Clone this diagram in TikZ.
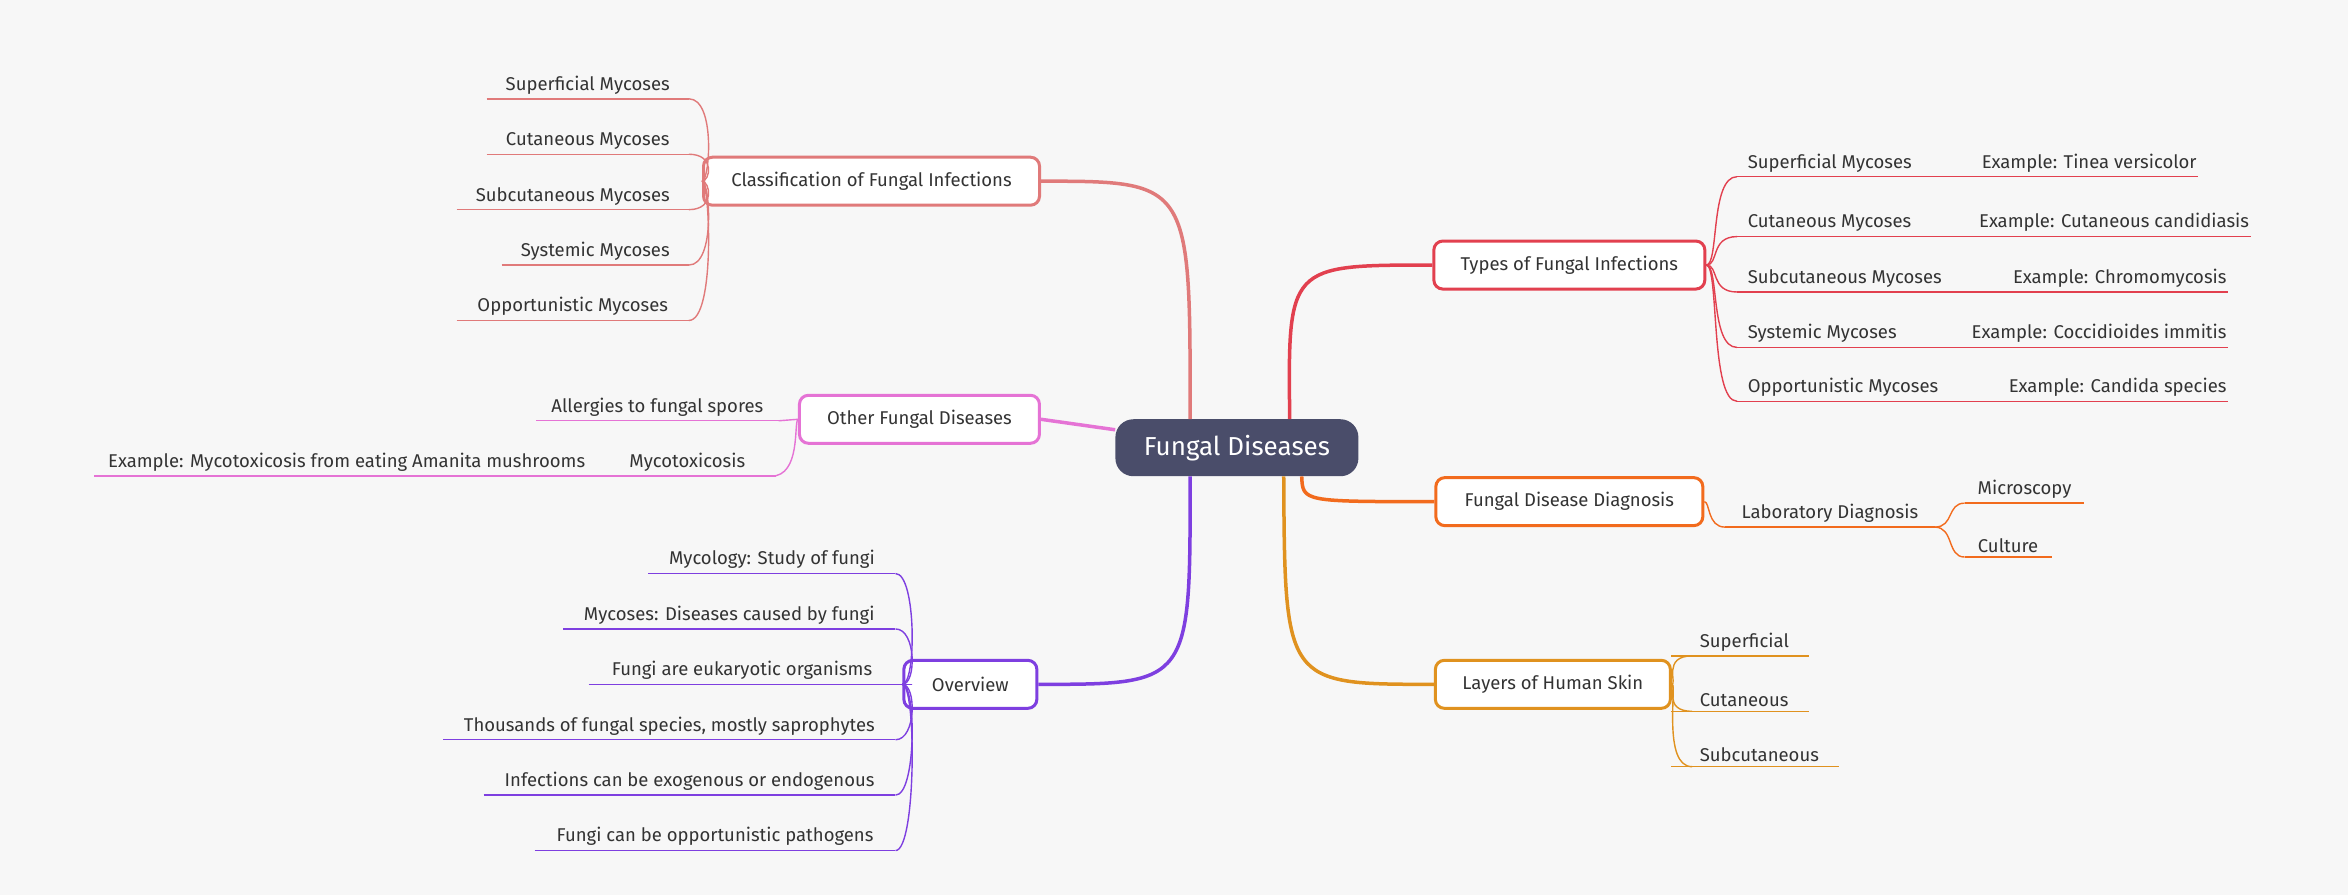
\documentclass[tikz,border=0pt]{standalone}
\usepackage{fontspec}
\setmainfont{Fira Sans}
\definecolor{bg}{HTML}{F7F7F7}
\definecolor{cred}{HTML}{E2404F}
\definecolor{csal}{HTML}{E07A7A}
\definecolor{cpink}{HTML}{E573D5}
\definecolor{cpur}{HTML}{7E3FE0}
\definecolor{cora}{HTML}{F26B1D}
\definecolor{camb}{HTML}{E0921F}
\definecolor{ctxt}{HTML}{333333}
\definecolor{cnav}{HTML}{4A4D6A}
\begin{document}
\begin{tikzpicture}[x=1.4974pt,y=-1.4974pt,
  mainbox/.style={draw,line width=3pt,rounded corners=9pt,fill=white,minimum height=48pt,inner xsep=12pt,text=ctxt,font=\fontsize{18.5}{21}\selectfont},
  lbl/.style={text=ctxt,font=\fontsize{18.5}{21}\selectfont,inner sep=4pt,anchor=south},
  link/.style={line width=1.4pt},
  trunk/.style={line width=3.5pt}]
\fill[bg] (0,0) rectangle (1568,598);
\useasboundingbox (0,0) rectangle (1568,598);
\newcommand\leaf[6]{\draw[#5,link] (#1,#3) -- node[lbl] (#6) {#4} (#2,#3);}
% center
\node[fill=cnav,rounded corners=18pt,minimum width=243pt,minimum height=57pt,text=white,font=\fontsize{26}{30}\selectfont] (c) at (826,299) {Fungal Diseases};
% main boxes
\node[mainbox,draw=cred,minimum width=271pt] (t) at (1048,177) {Types of Fungal Infections};
\node[mainbox,draw=cora,minimum width=267pt] (d) at (1048,335) {Fungal Disease Diagnosis};
\node[mainbox,draw=camb,minimum width=235pt] (l) at (1037,457) {Layers of Human Skin};
\node[mainbox,draw=csal,minimum width=336pt] (k) at (582,121) {Classification of Fungal Infections};
\node[mainbox,draw=cpink,minimum width=240pt] (o) at (614,280) {Other Fungal Diseases};
\node[mainbox,draw=cpur,minimum width=133pt] (v) at (648,457) {Overview};
% trunks
\draw[trunk,csal] (c.north west)++(50,0) coordinate (a1) .. controls (795,121) .. (k.east);
\draw[trunk,cred] (c.north east)++(-46,0) coordinate (a2) .. controls (860,177) .. (t.west);
\draw[trunk,cpink] (c.west) ++(0,-12) coordinate (a3) -- (o.east);
\draw[trunk,cpur] (c.south west)++(50,0) coordinate (a4) .. controls (795,457) .. (v.east);
\draw[trunk,cora] (c.south east)++(-38,0) coordinate (a5) .. controls (870,335) .. (d.west);
\draw[trunk,camb] (c.south east)++(-50,0) coordinate (a6) .. controls (858,457) .. (l.west);
% types
\foreach \y/\a/\b/\x [count=\i] in {118/Superficial Mycoses/Example: Tinea versicolor/1468,158/Cutaneous Mycoses/Example: Cutaneous candidiasis/1503,195/Subcutaneous Mycoses/Example: Chromomycosis/1488,232/Systemic Mycoses/Example: Coccidioides immitis/1488,268/Opportunistic Mycoses/Example: Candida species/1488}{
  \draw[cred,link] (t.east) .. controls (1148,177) and (1142,\y) .. (1160,\y);
  \draw[cred,link] (1160,\y) -- (1312,\y) node[lbl,anchor=south west,pos=0,inner xsep=1pt,xshift=9pt] (ta\i) {\a};
  \draw[cred,link] (1312,\y) -- (\x,\y) node[lbl,anchor=south east,inner xsep=1pt] (tb\i) {\b};
}
% diagnosis
\draw[cora,link] (d.east) .. controls (1142,335) and (1140,352) .. (1152,352);
\leaf{1152}{1292}{352}{Laboratory Diagnosis}{cora}{dl}
\draw[cora,link] (1292,352) .. controls (1305,352) and (1300,336) .. (1312,336);
\leaf{1312}{1392}{336}{Microscopy}{cora}{dm}
\draw[cora,link] (1292,352) .. controls (1305,352) and (1300,372) .. (1312,372);
\leaf{1312}{1370}{372}{Culture}{cora}{dc}
% layers
\foreach \y/\a/\x [count=\i] in {438/Superficial/1208,475/Cutaneous/1208,512/Subcutaneous/1228}{
  \draw[camb,link] (l.east) .. controls (1120,457) and (1110,\y) .. (1130,\y);
  \draw[camb,link] (1116,\y) -- (\x,\y) node[lbl,anchor=south west,pos=0,xshift=24pt] (ll\i) {\a};
}
% classification
\foreach \y/\a/\x [count=\i] in {66/Superficial Mycoses/325,103/Cutaneous Mycoses/325,140/Subcutaneous Mycoses/305,177/Systemic Mycoses/335,214/Opportunistic Mycoses/305}{
  \draw[csal,link] (k.west) .. controls (474,121) and (478,\y) .. (460,\y);
  \leaf{\x}{460}{\y}{\a}{csal}{kl\i}
}
% other
\leaf{358}{520}{281}{Allergies to fungal spores}{cpink}{oa}
\draw[cpink,link] (o.west) -- (520,281);
\draw[cpink,link] (o.west) .. controls (530,282) and (535,318) .. (515,318);
\leaf{400}{518}{318}{Mycotoxicosis}{cpink}{om}
\leaf{63}{400}{318}{Example: Mycotoxicosis from eating Amanita mushrooms}{cpink}{oe}
% overview
\foreach \y/\a/\x [count=\i] in {383/Mycology: Study of fungi/433,420/Mycoses: Diseases caused by fungi/376,457/Fungi are eukaryotic organisms/393,494/{Thousands of fungal species, mostly saprophytes}/296,531/Infections can be exogenous or endogenous/323,568/Fungi can be opportunistic pathogens/357}{
  \draw[cpur,link] (v.west) .. controls (612,457) and (612,\y) .. (598,\y);
  \leaf{\x}{598}{\y}{\a}{cpur}{vl\i}
}
\end{tikzpicture}
\end{document}
